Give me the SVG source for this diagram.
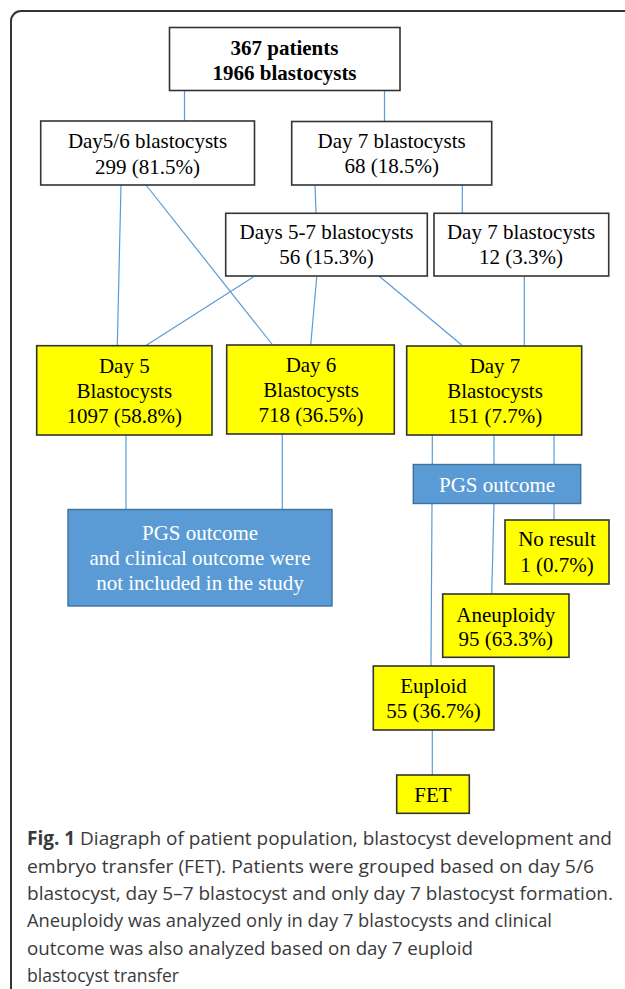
<svg xmlns="http://www.w3.org/2000/svg" width="625" height="989" viewBox="0 0 625 989">
<style>
.frame{fill:none;stroke:#333;stroke-width:2}
.box{fill:#fff;stroke:#333;stroke-width:1.6}
.yel{fill:#ffff00;stroke:#333;stroke-width:1.6}
.blue{fill:#5b9bd5;stroke:#41719c;stroke-width:1.4}
.t{font-family:"Liberation Serif","Times New Roman",serif;font-size:21px;fill:#000;text-anchor:middle}
.b{font-weight:bold}
.w{fill:#fff}
.cap{font-family:"Open Sans","Noto Sans",sans-serif;font-size:19px;fill:#3a3a3a}
#connectors line{stroke:#5b9bd5;stroke-width:1.2}
</style>
<rect width="625" height="989" fill="#fff"/>
<path class="frame" d="M11,995 V21 A10,10 0 0 1 21,11 H630"/>
<g id="connectors">
<line x1="184.5" y1="90.5" x2="184.5" y2="121"/>
<line x1="384.5" y1="90.5" x2="384.5" y2="121"/>
<line x1="121" y1="185" x2="117.3" y2="345.5"/>
<line x1="146" y1="185" x2="272.7" y2="345"/>
<line x1="315" y1="185" x2="316" y2="213"/>
<line x1="462.3" y1="185" x2="462.3" y2="213"/>
<line x1="253.3" y1="277" x2="146" y2="345.5"/>
<line x1="316.7" y1="277" x2="310.7" y2="345"/>
<line x1="379" y1="276" x2="461.7" y2="345"/>
<line x1="524.3" y1="276" x2="524.3" y2="346"/>
<line x1="126" y1="435" x2="126" y2="509.5"/>
<line x1="282.3" y1="434" x2="282.3" y2="509.5"/>
<line x1="432.3" y1="435" x2="432.3" y2="464.5"/>
<line x1="494" y1="435" x2="494" y2="464.5"/>
<line x1="554" y1="435" x2="554" y2="464.5"/>
<line x1="432" y1="503.5" x2="431" y2="666"/>
<line x1="494" y1="503.5" x2="491.7" y2="594"/>
<line x1="554" y1="503.5" x2="554" y2="520"/>
<line x1="432.3" y1="730" x2="432.3" y2="775"/>
</g>
<g id="n-top">
<rect class="box" x="169.5" y="27.5" width="230.5" height="63"/>
<text class="t b" x="284.5" y="55">367 patients</text>
<text class="t b" x="284.5" y="79.5">1966 blastocysts</text>
</g>
<g id="n-day56">
<rect class="box" x="40.7" y="121" width="213.8" height="64"/>
<text class="t" x="147.5" y="148">Day5/6 blastocysts</text>
<text class="t" x="147.5" y="173.5">299 (81.5%)</text>
</g>
<g id="n-day7a">
<rect class="box" x="291.7" y="121.5" width="200" height="63.5"/>
<text class="t" x="391.7" y="148.3">Day 7 blastocysts</text>
<text class="t" x="391.7" y="173.3">68 (18.5%)</text>
</g>
<g id="n-day57">
<rect class="box" x="225.7" y="213.3" width="201.6" height="62.7"/>
<text class="t" x="326.5" y="238.5">Days 5-7 blastocysts</text>
<text class="t" x="326.5" y="264">56 (15.3%)</text>
</g>
<g id="n-day7b">
<rect class="box" x="434" y="213.3" width="174.7" height="62.7"/>
<text class="t" x="521" y="238.5">Day 7 blastocysts</text>
<text class="t" x="521" y="264">12 (3.3%)</text>
</g>
<g id="n-d5">
<rect class="yel" x="36.7" y="345.7" width="175.3" height="89.3"/>
<text class="t" x="124.3" y="373.3">Day 5</text>
<text class="t" x="124.3" y="398.3">Blastocysts</text>
<text class="t" x="124.3" y="423.3">1097 (58.8%)</text>
</g>
<g id="n-d6">
<rect class="yel" x="226.7" y="345" width="167.6" height="89"/>
<text class="t" x="311" y="371.7">Day 6</text>
<text class="t" x="311" y="396.7">Blastocysts</text>
<text class="t" x="311" y="421.7">718 (36.5%)</text>
</g>
<g id="n-d7">
<rect class="yel" x="406.7" y="346" width="175" height="89"/>
<text class="t" x="495" y="373">Day 7</text>
<text class="t" x="495" y="398">Blastocysts</text>
<text class="t" x="495" y="423">151 (7.7%)</text>
</g>
<g id="n-excl">
<rect class="blue" x="68" y="509.5" width="264" height="96.5"/>
<text class="t w" x="200" y="540">PGS outcome</text>
<text class="t w" x="200" y="564.5">and clinical outcome were</text>
<text class="t w" x="200" y="589.5">not included in the study</text>
</g>
<g id="n-pgs">
<rect class="blue" x="413.3" y="464.5" width="167.4" height="39"/>
<text class="t w" x="497" y="491.5">PGS outcome</text>
</g>
<g id="n-noresult">
<rect class="yel" x="505" y="520" width="104" height="64"/>
<text class="t" x="557" y="546">No result</text>
<text class="t" x="557" y="571.5">1 (0.7%)</text>
</g>
<g id="n-aneu">
<rect class="yel" x="442.7" y="594" width="126.3" height="63.3"/>
<text class="t" x="505.8" y="621.5">Aneuploidy</text>
<text class="t" x="505.8" y="645.7">95 (63.3%)</text>
</g>
<g id="n-eu">
<rect class="yel" x="373.3" y="666" width="120.7" height="64"/>
<text class="t" x="433.5" y="693.3">Euploid</text>
<text class="t" x="433.5" y="718.3">55 (36.7%)</text>
</g>
<g id="n-fet">
<rect class="yel" x="396.7" y="775" width="72.6" height="38.3"/>
<text class="t" x="433" y="801.5">FET</text>
</g>
<g id="caption">
<text class="cap" x="27" y="845" textLength="585" lengthAdjust="spacingAndGlyphs"><tspan font-weight="bold">Fig. 1</tspan> Diagraph of patient population, blastocyst development and</text>
<text class="cap" x="27" y="872.5" textLength="567" lengthAdjust="spacingAndGlyphs">embryo transfer (FET). Patients were grouped based on day 5/6</text>
<text class="cap" x="27" y="900" textLength="586" lengthAdjust="spacingAndGlyphs">blastocyst, day 5–7 blastocyst and only day 7 blastocyst formation.</text>
<text class="cap" x="27" y="927" textLength="525" lengthAdjust="spacingAndGlyphs">Aneuploidy was analyzed only in day 7 blastocysts and clinical</text>
<text class="cap" x="27" y="954.5" textLength="446" lengthAdjust="spacingAndGlyphs">outcome was also analyzed based on day 7 euploid</text>
<text class="cap" x="27" y="982" textLength="152" lengthAdjust="spacingAndGlyphs">blastocyst transfer</text>
</g>
</svg>
